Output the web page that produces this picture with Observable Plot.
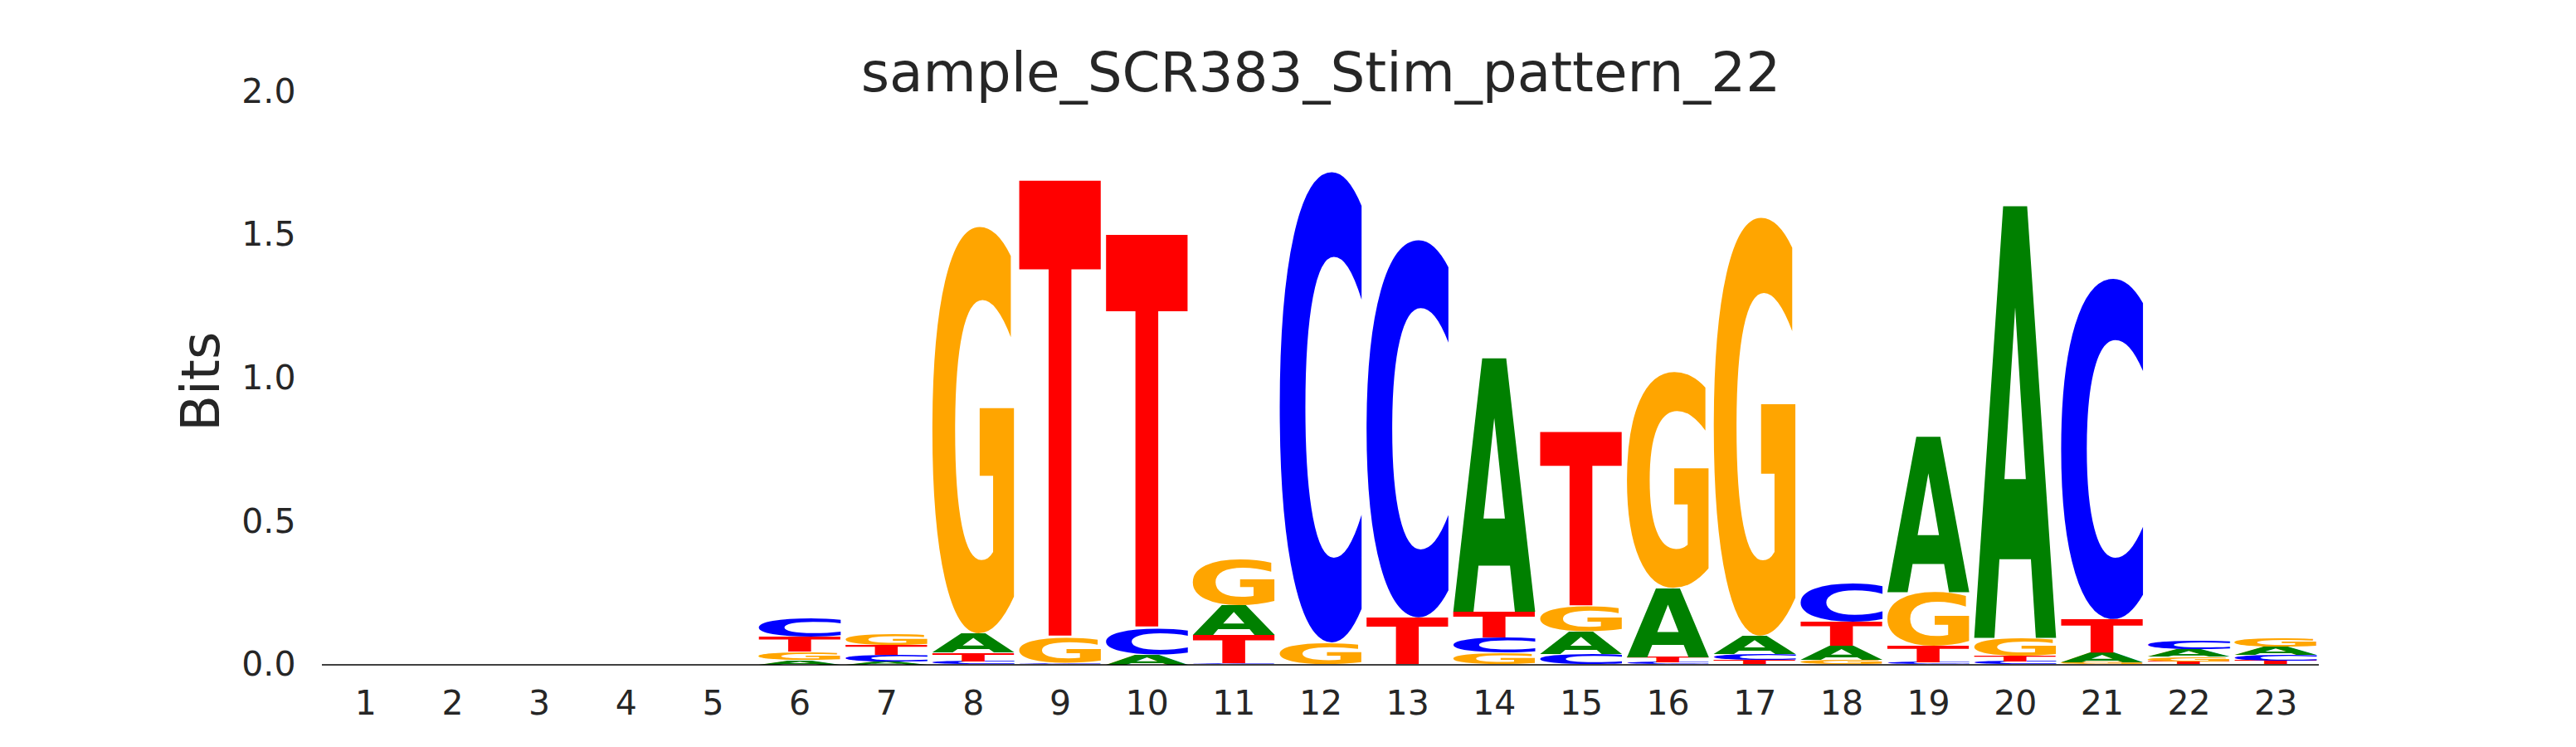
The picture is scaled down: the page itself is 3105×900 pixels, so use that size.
<!DOCTYPE html>
<html><head><meta charset="utf-8">
<script src="https://cdn.jsdelivr.net/npm/d3@7"></script>
<script src="https://cdn.jsdelivr.net/npm/@observablehq/plot@0.6"></script>
<style>body{margin:0;background:#fff;}</style>
</head><body><div id="chart"></div>
<script>
const title = "sample_SCR383_Stim_pattern_22";
const yLabel = "Bits";
const positions = [1,2,3,4,5,6,7,8,9,10,11,12,13,14,15,16,17,18,19,20,21,22,23];
const bases = ["A","C","G","T"];
const A = [0,0,0,0,0, 0.016,0.011,0.066,0,    0.035,0.106,0,    0,    0.885,0.080,0.242,0.064,0.047,0.543,1.508,0.032,0.027,0.029];
const C = [0,0,0,0,0, 0.068,0.022,0.010,0.005,0.088,0.005,1.649,1.322,0.053,0.035,0.006,0.020,0.133,0.008,0.011,1.193,0.029,0.019];
const G = [0,0,0,0,0, 0.028,0.039,1.425,0.085,0,    0.162,0.075,0,    0.040,0.087,0.757,1.465,0.017,0.188,0.063,0.008,0.016,0.032];
const T = [0,0,0,0,0, 0.053,0.035,0.031,1.600,1.378,0.097,0,    0.163,0.091,0.610,0.018,0.015,0.084,0.056,0.019,0.117,0.011,0.013];
const baseColors = {A:"#008000", C:"#0000ff", G:"#ffa500", T:"#ff0000"};
const yTicks = [0, 0.5, 1.0, 1.5, 2.0];
const xTicks = positions;

// stacked table (smallest at bottom)
const series = {A, C, G, T};
const stacked = [];
positions.forEach((p, i) => {
  const items = bases.map(b => ({letter: b, value: series[b][i]}))
    .filter(d => d.value > 0).sort((a, b) => a.value - b.value);
  let cum = 0;
  for (const it of items) {
    stacked.push({pos: p, letter: it.letter, y1: cum, y2: cum + it.value});
    cum += it.value;
  }
});

// glyph ink metrics
const FS = 200;
const FONT = "DejaVu Sans";
const cv = document.createElement("canvas");
const ctx = cv.getContext("2d");
ctx.font = `bold ${FS}px "${FONT}"`;
ctx.textAlign = "left";
ctx.textBaseline = "alphabetic";
const met = {};
for (const b of bases) {
  const m = ctx.measureText(b);
  met[b] = {L: m.actualBoundingBoxLeft, R: m.actualBoundingBoxRight, asc: m.actualBoundingBoxAscent, desc: m.actualBoundingBoxDescent};
}
const SVGNS = "http://www.w3.org/2000/svg";
function glyphs(index, scales, values, dimensions, context) {
  const doc = context.document;
  const g = doc.createElementNS(SVGNS, "g");
  g.setAttribute("text-anchor", "start");
  for (const i of index) {
    const xa = Math.min(values.x1[i], values.x2[i]), xb = Math.max(values.x1[i], values.x2[i]);
    const ya = Math.min(values.y1[i], values.y2[i]), yb = Math.max(values.y1[i], values.y2[i]);
    const w = xb - xa, h = yb - ya;
    if (h <= 0) continue;
    const b = stacked[i].letter, m = met[b];
    const sx = w / (m.L + m.R), sy = h / (m.asc + m.desc);
    const t = doc.createElementNS(SVGNS, "text");
    t.setAttribute("transform", `translate(${xa},${ya}) scale(${sx},${sy}) translate(${m.L},${m.asc})`);
    t.setAttribute("text-anchor", "start");
    t.setAttribute("font-size", FS);
    t.setAttribute("font-weight", "bold");
    t.setAttribute("font-family", FONT);
    t.setAttribute("fill", values.fill ? values.fill[i] : baseColors[b]);
    t.textContent = b;
    g.appendChild(t);
  }
  return g;
}

const W = 0.95;
const chart = Plot.plot({
  width: 3105, height: 900,
  marginLeft: 388, marginRight: 310, marginTop: 110, marginBottom: 99.5,
  style: {fontFamily: "DejaVu Sans", color: "#262626", background: "white"},
  x: {domain: [0.5, 23.5]},
  y: {domain: [0, 2]},
  color: {type: "identity"},
  marks: [
    Plot.rect(stacked, {
      x1: d => d.pos - W / 2, x2: d => d.pos + W / 2,
      y1: "y1", y2: "y2",
      fill: d => baseColors[d.letter],
      render: glyphs
    }),
    Plot.ruleY([0], {stroke: "#000", strokeWidth: 1.5}),
    Plot.axisX(xTicks, {tickSize: 0, tickPadding: 31, fontSize: 41, label: null, tickFormat: d => String(d)}),
    Plot.axisY(yTicks, {tickSize: 0, tickPadding: 32, fontSize: 41, label: null, tickFormat: d3.format(".1f")}),
    Plot.text([title], {text: d => d, frameAnchor: "top", dy: -47, fontSize: 66, fill: "#262626"}),
    Plot.text([yLabel], {text: d => d, frameAnchor: "left", textAnchor: "middle", rotate: -90, dx: -145, dy: 4, fontSize: 64, fill: "#262626"})
  ]
});
document.getElementById("chart").appendChild(chart);
</script>
</body></html>
